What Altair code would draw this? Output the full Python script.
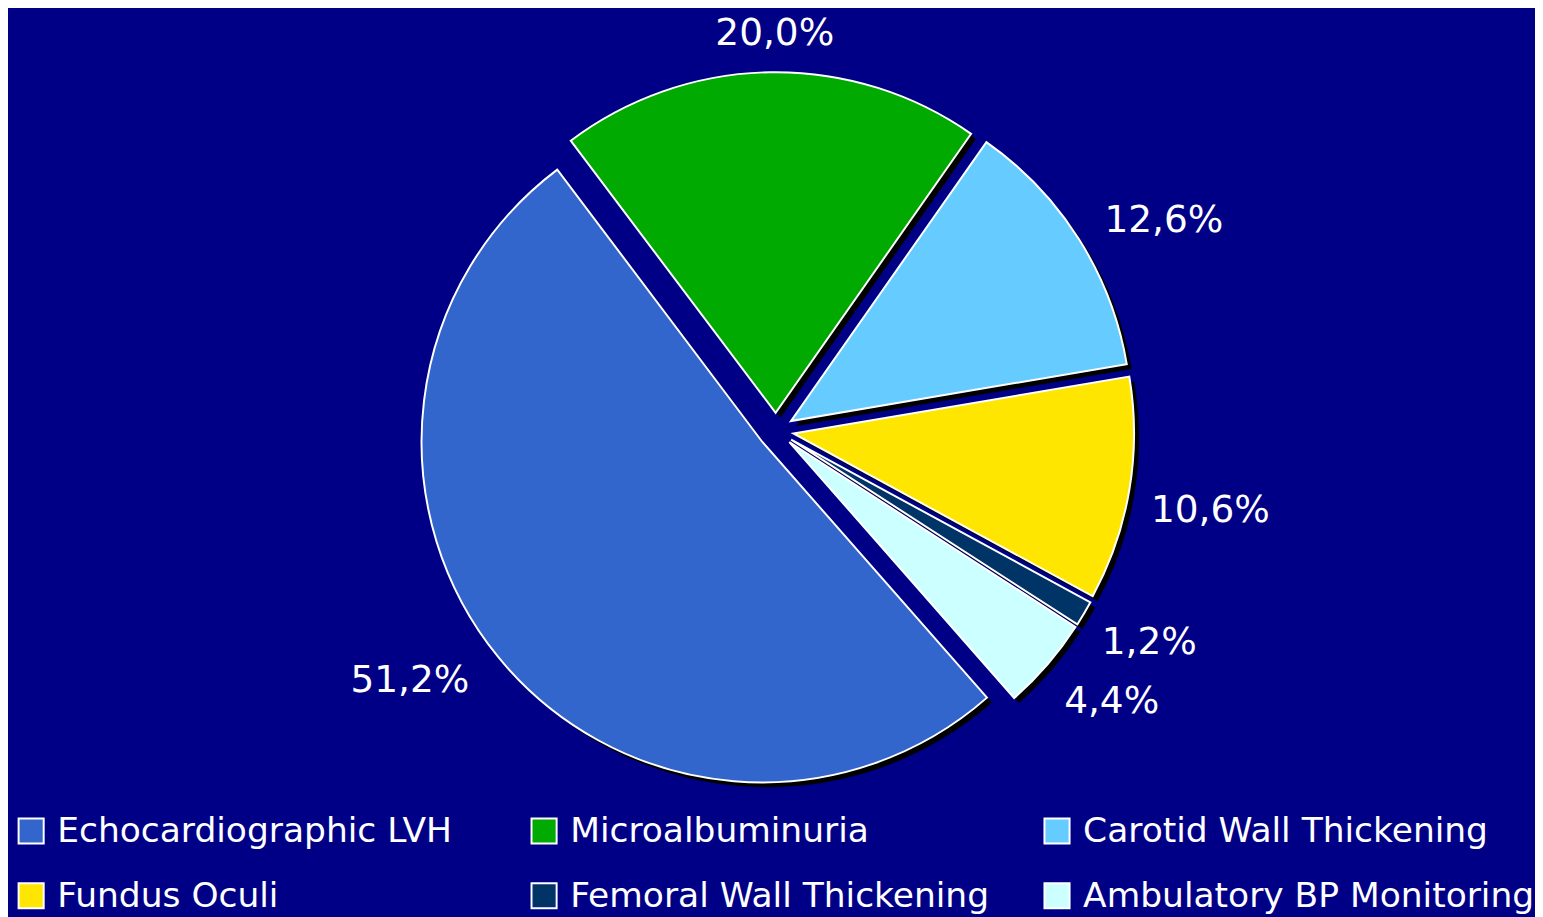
import math
import altair as alt
import pandas as pd

categories = ["Echocardiographic LVH", "Microalbuminuria", "Carotid Wall Thickening",
              "Fundus Oculi", "Femoral Wall Thickening", "Ambulatory BP Monitoring"]
values = [51.2, 20.0, 12.6, 10.6, 1.2, 4.4]
colors = ["#3366CC", "#00AA00", "#66CCFF", "#FFE600", "#003366", "#CCFFFF"]

# style: label nudges per slice (dx, dy)
label_nudge = [(-46, -11), (6, 17), (39, 12), (27, 13), (18, 2), (23, 2)]

START_DEG = 138.7
EXPLODE = 18
SHADOW = 5
R = 346
R_TEXT = 420
SHIFT_X = 16.5
SHIFT_Y = 1

labels = [f"{v:.1f}".replace(".", ",") + "%" for v in values]
df = pd.DataFrame({"cat": categories, "value": values, "label": labels})

start = math.radians(START_DEG)
theta_scale = alt.Scale(domain=[0, 100], range=[start, start + 2 * math.pi])
color_scale = alt.Scale(domain=categories, range=colors)

base = alt.Chart(df).transform_window(
    cum_end="sum(value)", frame=[None, 0]
).transform_calculate(
    cum_start="datum.cum_end - datum.value",
    mid="datum.cum_end - datum.value / 2",
)

# explode offsets along each slice bisector
offsets = []
cum = 0
for v in values:
    mid = cum + v / 2
    cum += v
    ang = math.radians(START_DEG + 3.6 * mid)
    offsets.append((EXPLODE * math.sin(ang) + SHIFT_X, -EXPLODE * math.cos(ang) + SHIFT_Y))

shadows, slices, texts = [], [], []
for i, cat in enumerate(categories):
    dx, dy = offsets[i]
    f = base.transform_filter(alt.datum.cat == cat)
    shadows.append(
        f.mark_arc(outerRadius=R, xOffset=dx + SHADOW, yOffset=dy + SHADOW, fill="black").encode(
            theta=alt.Theta("cum_start:Q", scale=theta_scale),
            theta2="cum_end:Q",
        )
    )
    slices.append(
        f.mark_arc(outerRadius=R, xOffset=dx, yOffset=dy, stroke="white", strokeWidth=2).encode(
            theta=alt.Theta("cum_start:Q", scale=theta_scale),
            theta2="cum_end:Q",
            color=alt.Color(
                "cat:N", scale=color_scale, sort=categories,
                legend=alt.Legend(
                    title=None, orient="none", legendX=6, legendY=807, columns=3,
                    direction="horizontal", gridAlign="all", columnPadding=18,
                    rowPadding=30, symbolType="square", symbolSize=650,
                    symbolStrokeColor="white", symbolStrokeWidth=2, symbolOpacity=1,
                    labelFont="DejaVu Sans", labelFontSize=35, labelColor="white",
                    labelOffset=9, labelLimit=600, padding=0,
                ),
            ),
        )
    )
    ndx, ndy = label_nudge[i]
    texts.append(
        f.mark_text(radius=R_TEXT, xOffset=SHIFT_X, yOffset=SHIFT_Y, dx=ndx, dy=ndy,
                    font="DejaVu Sans", fontSize=38,
                    color="white", align="center", baseline="middle").encode(
            theta=alt.Theta("mid:Q", scale=theta_scale),
            text="label:N",
        )
    )

chart = alt.layer(*shadows, *slices, *texts).properties(
    width=1527, height=834,
    padding=0,
    background="#000086",
).configure_view(stroke=None)

chart.save("out.html", embed_options={"renderer": "svg", "actions": False})
